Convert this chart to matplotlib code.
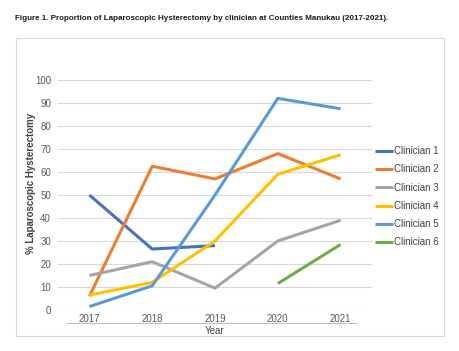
import matplotlib
matplotlib.use('Agg')
import matplotlib.pyplot as plt
from matplotlib.patches import Rectangle
import numpy as np

# Data
years = [2017, 2018, 2019, 2020, 2021]
clinician_1 = [50, 26.5, 28, None, None]
clinician_2 = [6, 62.5, 57, 68, 57]
clinician_3 = [15, 21, 9.5, 30, 39]
clinician_4 = [6.5, 12, 30, 59, 67.5]
clinician_5 = [1.5, 10.5, 50, 92, 87.5]
clinician_6 = [None, None, None, 11.5, 28.5]

series = [
    ('Clinician 1', clinician_1, '#4472C4'),
    ('Clinician 2', clinician_2, '#ED7D31'),
    ('Clinician 3', clinician_3, '#A5A5A5'),
    ('Clinician 4', clinician_4, '#FFC000'),
    ('Clinician 5', clinician_5, '#5B9BD5'),
    ('Clinician 6', clinician_6, '#70AD47'),
]

plt.rcParams['font.family'] = ['Liberation Sans', 'DejaVu Sans']

W, H = 459, 351
fig = plt.figure(figsize=(W / 100, H / 100), dpi=100)

# Title above the chart box
fig.text(15 / W, 1 - 18 / H,
         'Figure 1. Proportion of Laparoscopic Hysterectomy by clinician at Counties Manukau (2017-2021).',
         fontsize=5.8, fontweight='bold', ha='left', va='center', color='#1a1a1a')

# Chart border
fig.patches.append(Rectangle((16 / W, 1 - 336 / H), 428 / W, 298 / H,
                             transform=fig.transFigure, fill=False,
                             edgecolor='#d9d9d9', linewidth=0.8))

ax = fig.add_axes([58 / W, 1 - 310 / H, 314 / W, 230 / H])

for name, vals, col in series:
    y = np.array([np.nan if v is None else v for v in vals], dtype=float)
    ax.plot(years, y, color=col, linewidth=2.2, label=name,
            solid_capstyle='butt', clip_on=False)

ax.set_xlim(2016.5, 2021.5)
ax.set_ylim(0, 100)
ax.set_yticks(range(0, 101, 10))
ax.set_xticks(years)
ax.grid(axis='y', color='#d9d9d9', linewidth=0.8)
ax.set_axisbelow(True)
for s in ax.spines.values():
    s.set_visible(False)
ax.tick_params(length=0, labelsize=7, colors='#595959', pad=5)
ax.tick_params(axis='x', pad=3)

# x axis line drawn below the year labels, as in the reference
ax.plot([0.03, 0.95], [-0.057, -0.057], transform=ax.transAxes,
        color='#bfbfbf', linewidth=0.8, clip_on=False)

ax.set_ylabel('% Laparoscopic Hysterectomy', fontsize=7, fontweight='bold',
              color='#404040')
ax.yaxis.set_label_coords(-0.07, 0.55)
ax.set_xlabel('Year', fontsize=7, color='#404040', labelpad=1)

leg = ax.legend(loc='upper left', bbox_to_anchor=(1.0, 0.725), frameon=False,
                fontsize=7, handlelength=1.9, handletextpad=0.1,
                labelspacing=0.85, borderaxespad=0, borderpad=0.3)
for t in leg.get_texts():
    t.set_color('#404040')

fig.savefig('out.png', dpi=100)
